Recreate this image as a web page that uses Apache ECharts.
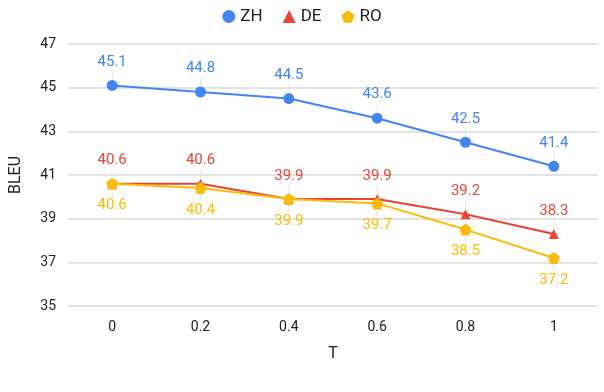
<!DOCTYPE html>
<html>
<head>
<meta charset="utf-8">
<script src="https://cdn.jsdelivr.net/npm/echarts@6/dist/echarts.min.js"></script>
<style>
  html, body { margin: 0; padding: 0; background: #fff; }
  #chart { width: 604px; height: 392px; }
</style>
</head>
<body>
<div id="chart"></div>
<script>
var categories = ['0', '0.2', '0.4', '0.6', '0.8', '1'];
var zhValues = [45.1, 44.8, 44.5, 43.6, 42.5, 41.4];
var deValues = [40.6, 40.6, 39.9, 39.9, 39.2, 38.3];
var roValues = [40.6, 40.4, 39.9, 39.7, 38.5, 37.2];

var pentagon = 'path://M0,-1 L0.951,-0.309 L0.588,0.809 L-0.588,0.809 L-0.951,-0.309 Z';
var font = 'Roboto, "Liberation Sans", sans-serif';

var chart = echarts.init(document.getElementById('chart'));

// line series; the label carries a short grey stick down (or up) to the point
function makeSeries(name, data, color, symbol, size, pos) {
  var top = pos == 'top';
  return {
    name: name,
    type: 'line',
    data: data,
    symbol: symbol,
    symbolSize: size,
    lineStyle: { color: color, width: 2 },
    itemStyle: { color: color },
    label: {
      show: true,
      position: pos,
      distance: 0,
      formatter: function (p) {
        return top ? '{v|' + p.value + '}\n{l|}' : '{l|}\n{v|' + p.value + '}';
      },
      rich: {
        v: { color: color, fontSize: 15, fontFamily: font, lineHeight: 18, align: 'center' },
        l: { width: 1, height: top ? 9 : 7, backgroundColor: '#e3e3e3', align: 'center' }
      }
    },
    z: 3
  };
}

var option = {
  animation: false,
  textStyle: { fontFamily: font },
  legend: {
    top: 3,
    left: 'center',
    itemWidth: 13,
    itemHeight: 13,
    itemGap: 20,
    textStyle: { fontSize: 17, color: '#222', fontFamily: font },
    data: [
      { name: 'ZH', icon: 'circle' },
      { name: 'DE', icon: 'triangle' },
      { name: 'RO', icon: pentagon }
    ]
  },
  grid: { left: 68, right: 6, top: 44, bottom: 86 },
  xAxis: {
    type: 'category',
    data: categories,
    boundaryGap: true,
    name: 'T',
    nameLocation: 'middle',
    nameGap: 40,
    nameTextStyle: { fontSize: 16, color: '#222' },
    axisLine: { show: false },
    axisTick: { show: false },
    axisLabel: { fontSize: 14, color: '#222', margin: 14 }
  },
  yAxis: {
    type: 'value',
    min: 35,
    max: 47,
    interval: 2,
    name: 'BLEU',
    nameLocation: 'middle',
    nameGap: 44,
    nameTextStyle: { fontSize: 16, color: '#222' },
    axisLine: { show: false },
    axisTick: { show: false },
    axisLabel: { fontSize: 14, color: '#222', margin: 12 },
    splitLine: { lineStyle: { color: '#d9d9d9', width: 1.5 } }
  },
  series: [
    makeSeries('ZH', zhValues, '#4285f4', 'circle', 11, 'top'),
    makeSeries('DE', deValues, '#ea4335', 'triangle', 10, 'top'),
    makeSeries('RO', roValues, '#fbbc04', pentagon, 12, 'bottom')
  ],
  graphic: [{
    type: 'text',
    left: 0,
    top: 391,
    style: {
      text: 'Figure 3:  The relationship between the BLEU score and T',
      font: '18px "Liberation Serif", serif',
      fill: '#555'
    }
  }]
};

chart.setOption(option);
</script>
</body>
</html>
